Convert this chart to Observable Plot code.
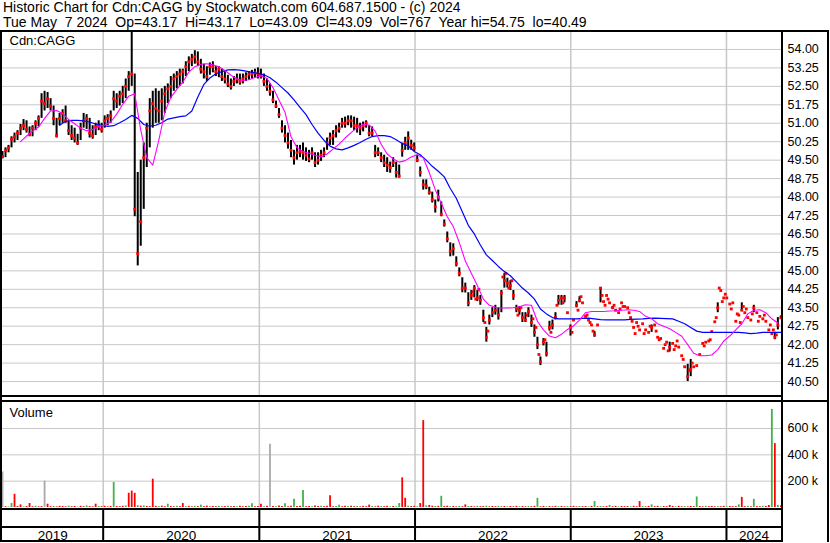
<!DOCTYPE html>
<html><head><meta charset="utf-8">
<script src="https://cdn.jsdelivr.net/npm/d3@7"></script>
<script src="https://cdn.jsdelivr.net/npm/@observablehq/plot@0.6"></script>
<style>
body{margin:0;background:#fff;font-family:"Liberation Sans",Arial,sans-serif;}
#wrap{position:relative;width:830px;height:543px;overflow:hidden;background:#fff}
.t{position:absolute;left:3px;font-size:14px;line-height:14.5px;height:14.5px;white-space:pre;color:#000}
.p{position:absolute;left:0}
.b{position:absolute;background:#000;z-index:5}
</style></head><body>
<div id="wrap">
  <div class="t" style="top:0px">Historic Chart for Cdn:CAGG by Stockwatch.com 604.687.1500 - (c) 2024</div>
  <div class="t" style="top:14.6px">Tue May  7 2024  Op=43.17  Hi=43.17  Lo=43.09  Cl=43.09  Vol=767  Year hi=54.75  lo=40.49</div>
  <div class="p" id="price" style="top:31px"></div>
  <div class="p" id="vol" style="top:401px"></div>
  <div class="p" id="years" style="top:509px"></div>
  <div class="b" style="left:0;top:30px;width:829px;height:2px"></div>
  <div class="b" style="left:0;top:30px;width:2px;height:512px"></div>
  <div class="b" style="left:781px;top:30px;width:2px;height:512px"></div>
  <div class="b" style="left:827px;top:30px;width:2px;height:512px"></div>
  <div class="b" style="left:0;top:395px;width:783px;height:2px"></div>
  <div class="b" style="left:0;top:400px;width:829px;height:2px"></div>
  <div class="b" style="left:0;top:508px;width:783px;height:2px"></div>
  <div class="b" style="left:0;top:526px;width:783px;height:2px"></div>
  <div class="b" style="left:0;top:540px;width:783px;height:2px"></div>
</div>
<script>
// ---- data (weekly samples, Cdn:CAGG, May 2019 - May 2024) ----
const startDate = Date.UTC(2019, 4, 10);
const stepDays = 7.0444;
const low = [
49.55,49.6,49.8,50.0,50.2,50.3,50.5,50.7,50.6,50.45,
50.45,50.7,50.85,51.2,51.5,51.6,51.5,50.9,50.4,50.9,
51.0,51.0,50.5,50.3,50.2,50.1,50.3,50.8,50.75,50.4,
50.35,50.5,50.7,50.6,50.8,50.9,51.0,51.5,51.6,51.7,
51.8,52.0,52.3,52.5,47.2,45.2,46.0,47.5,49.2,50.0,
50.8,51.0,51.0,51.1,51.4,51.8,52.0,52.3,52.4,52.5,
52.6,52.9,53.1,53.3,53.4,53.3,53.0,52.8,52.7,52.95,
53.05,52.9,52.85,52.7,52.6,52.45,52.35,52.5,52.6,52.55,
52.6,52.7,52.75,52.8,52.85,52.8,52.8,52.5,52.3,52.1,
51.8,51.6,51.2,50.6,50.2,49.95,49.6,49.3,49.5,49.6,
49.5,49.45,49.4,49.5,49.2,49.3,49.45,49.6,49.9,50.1,
50.1,50.4,50.6,50.8,50.8,50.9,50.8,50.7,50.6,50.5,
50.65,50.8,50.45,50.45,49.6,49.65,49.4,49.2,49.0,48.97,
49.2,48.77,48.77,49.62,49.9,49.9,49.9,49.85,49.4,48.81,
48.28,48.3,48.08,47.76,47.35,47.8,47.2,46.78,46.14,45.57,
45.6,45.16,44.76,44.11,44.1,43.54,43.8,43.9,43.75,43.6,
42.9,42.1,42.8,43.1,43.2,43.0,43.3,44.3,44.3,44.2,
43.8,43.3,43.2,42.9,42.9,43.1,42.7,42.3,41.8,41.15,
41.95,41.5,42.55,42.6,43.0,43.6,43.6,43.7,43.3,42.35,
43.0,43.5,43.7,43.7,43.15,43.0,42.8,42.3,42.8,43.7,
43.75,44.0,43.7,43.45,43.4,43.3,43.7,43.55,43.5,43.1,
42.7,42.9,42.6,42.85,42.6,42.5,42.5,42.8,42.3,42.25,
41.85,42.1,41.7,42.05,41.95,41.9,41.55,41.1,40.5,40.7,
41.1,41.15,41.6,42.05,42.1,42.15,42.53,42.93,43.3,44.2,
43.9,43.9,43.65,43.7,42.95,43.2,43.35,43.3,43.1,43.0,
43.3,43.3,43.15,43.05,42.95,42.6,42.45,42.2,42.6,43.09];
const high = [
49.85,50.0,50.1,50.45,50.6,50.7,50.95,51.15,51.1,50.85,
50.9,51.1,51.3,52.2,52.3,52.25,52.0,51.7,51.2,51.4,
51.55,51.7,51.1,50.9,50.8,50.55,51.0,51.4,51.35,51.2,
50.9,51.0,51.1,51.0,51.3,51.35,51.5,52.3,52.2,52.3,
52.5,52.8,53.1,54.75,53.0,49.0,49.5,50.2,51.0,52.0,
52.3,52.4,52.3,52.4,52.5,52.6,52.9,53.0,53.1,53.2,
53.2,53.5,53.7,53.8,53.95,53.9,53.6,53.4,53.3,53.45,
53.5,53.3,53.3,53.2,53.1,52.95,52.8,52.9,53.0,53.0,
53.0,53.05,53.1,53.15,53.2,53.25,53.2,53.0,52.8,52.6,
52.3,51.9,51.6,51.1,50.9,50.6,50.3,49.9,50.1,50.1,
50.2,50.0,49.9,50.0,49.8,49.8,49.9,50.0,50.4,50.6,
50.7,50.9,51.0,51.2,51.25,51.3,51.3,51.25,51.2,51.0,
51.05,51.1,50.9,50.85,50.1,50.0,49.8,49.7,49.6,49.42,
49.6,49.42,49.3,50.19,50.43,50.65,50.31,50.2,49.7,49.22,
48.7,48.7,48.4,48.2,47.88,48.28,47.8,47.07,46.58,46.14,
46.1,45.57,45.12,44.72,44.5,44.11,44.2,44.4,44.2,44.0,
43.4,42.7,43.2,43.5,43.6,43.5,44.2,44.9,44.7,44.6,
44.2,43.6,43.55,43.3,43.3,43.5,43.2,42.8,42.3,41.5,
42.25,42.1,42.95,43.0,43.3,44.0,44.0,44.0,43.3,42.8,
43.0,43.75,43.95,43.7,43.15,43.0,42.8,42.53,42.8,44.3,
43.75,44.0,43.7,43.55,43.4,43.3,43.7,43.55,43.5,43.1,
42.7,42.9,42.6,42.85,42.6,42.5,42.8,42.8,42.3,42.25,
41.85,42.1,42.1,42.05,41.95,41.9,41.55,41.1,41.2,41.4,
41.1,41.15,41.6,42.05,42.1,42.15,42.53,42.93,43.7,44.2,
43.9,43.9,43.65,43.7,42.95,43.2,43.7,43.3,43.1,43.0,
43.6,43.3,43.15,43.05,42.95,42.6,42.45,42.5,43.1,43.17];
const close = [
49.65,49.9,50.0,50.35,50.45,50.6,50.8,50.9,50.75,50.55,
50.8,51.0,51.2,51.9,51.8,52.0,51.7,51.2,50.5,51.2,
51.4,51.1,50.7,50.5,50.4,50.2,50.8,51.1,51.2,50.6,
50.5,50.85,50.9,50.75,51.1,51.2,51.3,52.0,51.9,52.1,
52.2,52.5,52.9,53.0,47.5,45.7,47.0,49.6,50.8,51.5,
51.8,51.6,51.5,51.9,52.2,52.4,52.5,52.8,52.9,53.0,
53.1,53.3,53.5,53.6,53.7,53.5,53.2,53.1,52.9,53.3,
53.3,53.1,53.2,52.9,52.8,52.6,52.5,52.7,52.8,52.7,
52.8,52.9,53.0,53.0,53.05,53.0,52.95,52.7,52.5,52.3,
51.95,51.7,51.35,50.8,50.5,50.2,49.9,49.6,49.8,49.85,
49.8,49.7,49.55,49.8,49.4,49.5,49.7,49.8,50.2,50.4,
50.5,50.7,50.8,51.0,51.0,51.1,51.1,50.9,50.9,50.8,
50.9,51.0,50.6,50.6,49.8,49.8,49.6,49.4,49.3,49.2,
49.4,49.0,48.85,49.9,50.2,50.4,50.1,50.0,49.5,49.0,
48.5,48.45,48.2,47.9,47.6,48.0,47.3,46.9,46.3,45.8,
45.9,45.3,44.9,44.3,44.3,43.7,44.0,44.3,43.9,43.8,
43.1,42.3,43.0,43.3,43.4,43.2,44.1,44.6,44.5,44.4,
44.0,43.45,43.4,43.1,43.0,43.35,42.9,42.5,42.0,41.3,
42.1,41.65,42.7,42.8,43.1,43.8,43.9,43.9,43.3,42.7,
43.0,43.6,43.8,43.7,43.15,43.0,42.8,42.4,42.8,44.3,
43.75,44.0,43.7,43.5,43.4,43.3,43.7,43.55,43.5,43.1,
42.7,42.9,42.6,42.85,42.6,42.5,42.7,42.8,42.3,42.25,
41.85,42.1,41.9,42.05,41.95,41.9,41.55,41.1,40.7,41.0,
41.1,41.15,41.6,42.05,42.1,42.15,42.53,42.93,43.5,44.2,
43.9,43.9,43.65,43.7,42.95,43.2,43.4,43.3,43.1,43.0,
43.5,43.3,43.15,43.05,42.95,42.6,42.45,42.3,42.8,43.09];
// extra single-trade prints in the thinly traded period (week position, price)
const extraWeek = [156.5,157.5,158.5,160.5,161.5,166.5,167.5,168.5,169.5,171.5,172.5,174.5,176.5,177.5,178.5,180.5,182.5,184.5,186.5,189.5,191.5,192.5,194.5,195.5,196.5,199.5,200.5,201.5,203.5,205.5,206.5,208.5,209.5,210.5,211.5,213.5,215.5,217.5,218.5,220.5,221.5,223.5,224.5,226.5,228.5,229.5,233.5,235.5,237.5,238.5,239.5,240.5,242.5,244.5,245.5,246.5,247.5,249.5,251.5,253.5,255.5,256.5,257.5];
const extraPrice = [44.15,43.85,44.25,42.9,42.55,44.75,44.9,44.3,44.6,43.2,43.5,43.2,43.05,42.7,41.6,42.2,42.5,43.6,43.7,42.5,43.4,43.95,43.2,42.9,42.55,44.0,43.6,43.85,43.6,43.45,43.55,43.3,42.95,42.45,42.75,42.45,42.75,42.55,42.2,42.0,41.75,41.8,42.15,41.4,40.95,41.25,41.95,42.2,43.1,44.3,43.75,44.05,43.45,43.25,42.9,43.55,43.45,43.25,42.95,43.2,42.8,42.6,42.4];
// moving averages, one value every 2 weeks
const maFastStart = 6;   // magenta line starts at week 6
const maFast = [
50.25,50.48,50.68,50.85,51.2,51.5,51.52,51.4,51.15,50.98,
50.8,50.7,50.75,50.86,50.93,51.05,51.37,51.77,52.1,52.2,
50.72,49.6,49.3,50.3,51.45,52.05,52.38,52.67,53.08,53.3,
53.4,53.42,53.38,53.3,53.15,52.95,52.8,52.74,52.77,52.86,
52.93,52.82,52.45,51.95,51.45,50.45,50.0,49.85,49.78,49.7,
49.63,49.75,49.95,50.15,50.4,50.62,50.82,50.95,50.93,50.68,
50.15,49.75,49.55,49.42,49.48,49.63,49.72,49.6,49.0,48.3,
47.75,47.2,46.8,46.15,45.4,44.9,44.4,43.85,43.6,43.52,
43.49,43.49,43.5,43.54,43.62,43.6,42.95,42.6,42.35,42.28,
42.42,42.62,42.76,43.0,43.3,43.35,43.35,43.35,43.37,43.38,
43.4,43.42,43.4,43.35,43.15,43.05,42.85,42.75,42.65,42.5,
42.34,42.0,41.65,41.55,41.55,41.58,41.8,42.15,42.35,42.6,
42.85,43.25,43.4,43.42,43.3,43.05,42.88];
const maSlowStart = 19;  // blue line starts at week 19
const maSlow = [
50.92,51.08,51.12,51.12,51.1,51.05,50.97,50.92,50.87,50.9,
51.02,51.15,51.32,51.2,50.95,50.88,50.92,51.02,51.17,51.22,
51.27,51.3,51.5,52.07,52.58,52.84,53.01,53.1,53.17,53.18,
53.16,53.12,53.07,53.03,52.97,52.85,52.67,52.45,52.23,51.95,
51.65,51.35,50.95,50.6,50.3,50.07,49.96,49.92,50.0,50.1,
50.22,50.35,50.46,50.5,50.5,50.46,50.33,50.18,50.08,49.85,
49.72,49.5,49.25,49.05,48.82,48.35,47.95,47.4,46.85,46.5,
46.05,45.65,45.42,45.18,44.97,44.8,44.55,44.3,44.1,43.85,
43.45,43.25,43.1,43.05,43.05,43.05,43.05,43.07,43.08,43.05,
43.02,43.01,43.01,43.01,43.01,43.03,43.04,43.05,43.07,43.08,
43.07,43.06,43.05,42.95,42.85,42.7,42.55,42.5,42.5,42.5,
42.5,42.5,42.5,42.5,42.48,42.45,42.47,42.5,42.5,42.5,42.5];
// volume in thousands of shares
const volK = [
270,6,4,30,100,8,20,5,7,30,
6,9,5,7,200,25,6,8,5,9,
7,5,10,6,8,4,9,6,12,7,
5,25,8,6,9,5,7,190,8,6,
9,12,108,125,108,14,10,12,8,6,
215,9,7,10,6,25,8,5,9,7,
30,6,8,5,9,7,18,6,10,5,
8,6,9,5,7,10,6,8,5,9,
6,7,10,28,5,8,25,6,9,480,
7,5,12,8,28,6,9,62,7,10,
130,6,8,5,12,7,9,6,10,90,
6,8,18,5,9,7,10,6,8,5,
9,6,18,8,5,10,7,6,9,5,
8,6,30,225,70,10,7,9,6,30,
660,12,15,10,8,9,85,7,10,6,
8,5,9,6,20,7,8,5,9,6,
7,10,5,8,6,9,5,7,6,8,
5,9,6,7,5,8,6,9,70,5,
8,6,7,5,9,6,8,5,7,6,
9,5,8,6,7,5,9,45,6,8,
5,7,15,6,9,5,8,6,7,5,
9,6,45,7,5,8,20,6,9,5,
7,6,15,8,5,9,6,7,5,8,
6,80,7,5,9,6,8,5,7,6,
9,5,8,6,7,20,77,6,9,5,
62,7,6,9,8,15,745,485,15,12];
const volUpIdx = [2,3,7,11,17,22,25,28,32,37,41,45,47,52,55,58,61,64,66,72,75,78,82,83,87,91,94,97,100,103,106,111,112,115,118,123,126,129,131,132,135,138,141,144,146,149,152,155,158,161,165,168,172,175,178,181,185,188,192,195,197,199,202,205,209,213,216,219,224,227,231,234,238,241,245,248,250,253,256,258];
const volFlatIdx = [0,14,89];
const priceTicks = [40.5,41.25,42,42.75,43.5,44.25,45,45.75,46.5,47.25,48,48.75,49.5,50.25,51,51.75,52.5,53.25,54];
const volTicks = [200,400,600];
const years = [2019,2020,2021,2022,2023,2024];

// ---- build ----
const d0 = new Date(Date.UTC(2019,4,10)), d1 = new Date(Date.UTC(2024,4,9));
const xDomain = [d0, d1];
const dateAt = i => new Date(startDate + i*stepDays*864e5);
const rows = close.map((c,i)=>({date:dateAt(i), low:low[i], high:high[i], close:c}));
const extraRows = extraPrice.map((p,k)=>({date:dateAt(extraWeek[k]), close:p}));
const fastRows = maFast.map((v,k)=>({date:dateAt(maFastStart+2*k), v}));
const slowRows = maSlow.map((v,k)=>({date:dateAt(maSlowStart+2*k), v}));
const up = new Set(volUpIdx), flat = new Set(volFlatIdx);
const vrows = volK.map((v,i)=>({date:dateAt(i), vol:v, color: flat.has(i)?"#a9a9a9":up.has(i)?"#3fb24a":"#ff0000"}));
const yearStarts = years.slice(1).map(y=>new Date(Date.UTC(y,0,1)));
const yearLabels = years.map(y=>{const a=Math.max(Date.UTC(y,0,1),+d0), b=Math.min(Date.UTC(y+1,0,1),+d1);return {mid:new Date((a+b)/2), label:String(y)};});
const font = '"Liberation Sans", Arial, sans-serif';
const grid = "#c8c8c8";
const common = {width:830, marginLeft:2, marginRight:49, style:{background:"transparent", fontFamily:font, fontSize:"12.5px", color:"#000", overflow:"visible"}};

const price = Plot.plot({...common, height:364, marginTop:0, marginBottom:0,
  x:{type:"utc", domain:xDomain, axis:null},
  y:{domain:[39.933,54.73], axis:null},
  marks:[
    Plot.ruleY(priceTicks,{stroke:grid, strokeWidth:1}),
    Plot.ruleX(yearStarts,{stroke:grid, strokeWidth:1.5}),
    Plot.text(priceTicks,{y:d=>d, text:d=>d.toFixed(2), frameAnchor:"right", dx:6, textAnchor:"start", fill:"#000", fontSize:12.5}),
    Plot.ruleX(rows,{x:"date", y1:"low", y2:"high", stroke:"#000", strokeWidth:2}),
    Plot.dot(rows,{x:"date", y:"close", symbol:"square", r:1.6, fill:"#ff0000", stroke:null}),
    Plot.dot(extraRows,{x:"date", y:"close", symbol:"square", r:1.6, fill:"#ff0000", stroke:null}),
    Plot.line(slowRows,{x:"date", y:"v", stroke:"#0000ff", strokeWidth:1.2}),
    Plot.line(fastRows,{x:"date", y:"v", stroke:"#ff00ff", strokeWidth:1.1}),
    Plot.text(["Cdn:CAGG"],{frameAnchor:"top-left", dx:7, dy:4, textAnchor:"start", lineAnchor:"top", fontSize:13, fill:"#000"})
  ]});
document.getElementById("price").appendChild(price);

const vol = Plot.plot({...common, height:108, marginTop:0, marginBottom:2,
  x:{type:"utc", domain:xDomain, axis:null},
  y:{domain:[0,805], axis:null},
  color:{type:"identity"},
  marks:[
    Plot.ruleY(volTicks,{stroke:grid, strokeWidth:1}),
    Plot.ruleX(yearStarts,{stroke:grid, strokeWidth:1.5}),
    Plot.text(volTicks,{y:d=>d, text:d=>d+" k", frameAnchor:"right", dx:6, textAnchor:"start", fill:"#000", fontSize:12.5}),
    Plot.ruleX(vrows,{x:"date", y1:0, y2:"vol", stroke:"color", strokeWidth:1.8}),
    Plot.text(["Volume"],{frameAnchor:"top-left", dx:7, dy:6, textAnchor:"start", lineAnchor:"top", fontSize:13, fill:"#000"})
  ]});
document.getElementById("vol").appendChild(vol);

const yr = Plot.plot({...common, height:34, marginTop:0, marginBottom:2,
  x:{type:"utc", domain:xDomain, axis:null},
  marks:[
    Plot.ruleX(yearStarts,{stroke:"#000", strokeWidth:2}),
    Plot.text(yearLabels,{x:"mid", text:"label", frameAnchor:"bottom", lineAnchor:"bottom", dy:-2, fontSize:13.5, fill:"#000"})
  ]});
document.getElementById("years").appendChild(yr);
</script>
</body></html>
